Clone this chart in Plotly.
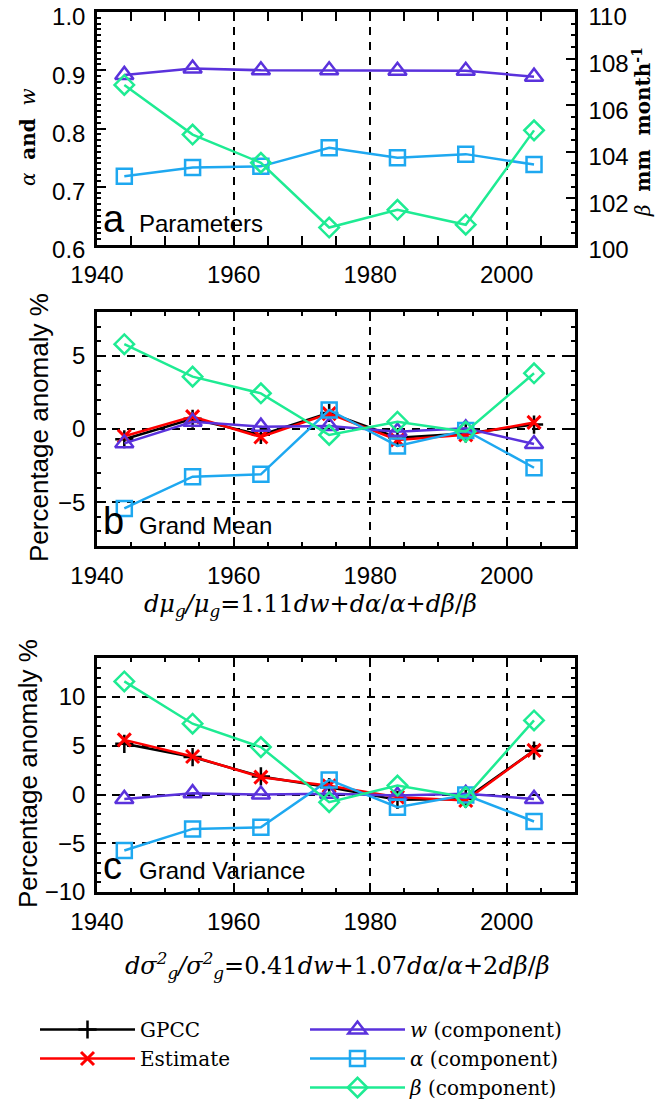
import plotly.graph_objects as go

# ---------------- data ----------------
years = [1944, 1954, 1964, 1974, 1984, 1994, 2004]

# panel a: parameters
param_w = [0.892, 0.903, 0.900, 0.900, 0.899, 0.899, 0.889]
param_alpha = [0.718, 0.733, 0.735, 0.767, 0.750, 0.756, 0.738]
param_beta = [106.87, 104.74, 103.53, 100.75, 101.51, 100.87, 104.92]

# panel b: grand mean percentage anomalies
mean_gpcc = [-0.7, 0.7, -0.4, 1.1, -0.6, -0.3, 0.3]
mean_est = [-0.5, 0.85, -0.55, 1.05, -0.75, -0.4, 0.45]
mean_w = [-0.98, 0.5, 0.16, 0.2, -0.18, 0.05, -1.03]
mean_alpha = [-5.43, -3.26, -3.1, 1.3, -1.16, -0.1, -2.65]
mean_beta = [5.8, 3.58, 2.44, -0.41, 0.5, -0.18, 3.81]

# panel c: grand variance percentage anomalies
var_gpcc = [5.2, 3.84, 1.85, 0.75, -0.55, -0.45, 4.5]
var_est = [5.6, 3.9, 1.78, 0.9, -0.27, -0.62, 4.52]
var_w = [-0.45, 0.14, 0.0, 0.07, -0.1, 0.07, -0.45]
var_alpha = [-5.75, -3.53, -3.36, 1.5, -1.3, -0.05, -2.77]
var_beta = [11.6, 7.26, 4.86, -0.79, 0.92, -0.27, 7.6]

x_ticks = [1940, 1960, 1980, 2000]
a_left_ticks = [0.6, 0.7, 0.8, 0.9, 1.0]
a_left_labels = ["0.6", "0.7", "0.8", "0.9", "1.0"]
a_right_ticks = [100, 102, 104, 106, 108, 110]
b_ticks = [-5, 0, 5]
c_ticks = [-10, -5, 0, 5, 10]

# ---------------- style ----------------
W, H = 665, 1099
C_W = "#5A32DC"
C_A = "#1EA8F0"
C_B = "#1EEB93"
C_E = "#FF0000"
C_G = "#000000"
SANS = "Liberation Sans, Arial, sans-serif"
SERIF = "DejaVu Serif, serif"
TICKFONT = dict(family=SANS, size=24, color="black")


def py(px):
    return 1 - px / H


def px_x(px):
    return px / W


xdom = [px_x(97), px_x(575)]
dom_a = [py(245), py(12)]
dom_b = [py(546), py(312)]
dom_c = [py(892), py(658)]

fig = go.Figure()

mk_w = dict(symbol="triangle-up-open", size=16, line=dict(width=2.5, color=C_W), color=C_W)
mk_a = dict(symbol="square-open", size=15, line=dict(width=2.5, color=C_A), color=C_A)
mk_b = dict(symbol="diamond-open", size=15, line=dict(width=2.5, color=C_B), color=C_B)
mk_g = dict(symbol="cross-thin-open", size=13, line=dict(width=2.5, color=C_G), color=C_G)
mk_e = dict(symbol="x-thin-open", size=13, line=dict(width=3, color=C_E), color=C_E)
LW = 2.5

# panel a
fig.add_trace(go.Scatter(x=years, y=param_w, mode="lines+markers", line=dict(color=C_W, width=LW),
                         marker=mk_w, xaxis="x", yaxis="y", showlegend=False))
fig.add_trace(go.Scatter(x=years, y=param_alpha, mode="lines+markers", line=dict(color=C_A, width=LW),
                         marker=mk_a, xaxis="x", yaxis="y", showlegend=False))
fig.add_trace(go.Scatter(x=years, y=param_beta, mode="lines+markers", line=dict(color=C_B, width=LW),
                         marker=mk_b, xaxis="x", yaxis="y2", showlegend=False))

# panels b and c
for xa, ya, vals, show in [("x2", "y3", (mean_gpcc, mean_est, mean_w, mean_alpha, mean_beta), True),
                           ("x3", "y4", (var_gpcc, var_est, var_w, var_alpha, var_beta), False)]:
    g, e, w, a, b = vals
    fig.add_trace(go.Scatter(x=years, y=g, mode="lines+markers", name="GPCC", legend="legend",
                             line=dict(color=C_G, width=LW), marker=mk_g, xaxis=xa, yaxis=ya, showlegend=show))
    fig.add_trace(go.Scatter(x=years, y=e, mode="lines+markers", name="Estimate", legend="legend",
                             line=dict(color=C_E, width=LW), marker=mk_e, xaxis=xa, yaxis=ya, showlegend=show))
    fig.add_trace(go.Scatter(x=years, y=w, mode="lines+markers", name="<i>w</i> (component)", legend="legend2",
                             line=dict(color=C_W, width=LW), marker=mk_w, xaxis=xa, yaxis=ya, showlegend=show))
    fig.add_trace(go.Scatter(x=years, y=a, mode="lines+markers", name="<i>α</i> (component)", legend="legend2",
                             line=dict(color=C_A, width=LW), marker=mk_a, xaxis=xa, yaxis=ya, showlegend=show))
    fig.add_trace(go.Scatter(x=years, y=b, mode="lines+markers", name="<i>β</i> (component)", legend="legend2",
                             line=dict(color=C_B, width=LW), marker=mk_b, xaxis=xa, yaxis=ya, showlegend=show))

COMMON = dict(ticks="inside", ticklen=9, tickwidth=1.5, tickcolor="black",
              showline=True, linecolor="black", linewidth=2.5,
              gridcolor="black", gridwidth=2, griddash="8px,7px",
              zeroline=False, tickfont=TICKFONT, automargin=False, ticklabeloverflow="allow")


def xaxis(anchor):
    return dict(domain=xdom, anchor=anchor, range=[1940, 2010], tickmode="array", tickvals=x_ticks,
                mirror="allticks", showgrid=True, ticklabelstandoff=6,
                minor=dict(dtick=5, tick0=1940, ticks="inside", ticklen=4, tickwidth=1.5,
                           tickcolor="black", showgrid=False),
                **COMMON)


def yaxis(dom, rng, vals, minor, anchor):
    return dict(domain=dom, anchor=anchor, range=rng, tickmode="array", tickvals=vals,
                mirror="allticks", showgrid=True, ticklabelstandoff=4,
                minor=dict(dtick=minor, tick0=0, ticks="inside", ticklen=4, tickwidth=1.5,
                           tickcolor="black", showgrid=False),
                **COMMON)


ya = dict(domain=dom_a, anchor="x", range=[0.6, 1.0], tickmode="array", tickvals=a_left_ticks,
          ticktext=a_left_labels, mirror=True, showgrid=False, ticklabelstandoff=4, ticklabelshift=5,
          minor=dict(dtick=0.01, tick0=0.6, ticks="inside", ticklen=4, tickwidth=1.5, tickcolor="black"),
          **COMMON)
y2 = dict(overlaying="y", side="right", anchor="x", range=[100, 110], tickmode="array",
          tickvals=a_right_ticks, showgrid=False, ticklabelstandoff=6, ticklabelshift=5,
          minor=dict(dtick=0.5, tick0=100, ticks="inside", ticklen=4, tickwidth=1.5, tickcolor="black"),
          **COMMON)

LEGFONT = dict(family=SERIF, size=20, color="black")
fig.update_layout(
    template="none",
    width=W, height=H,
    margin=dict(l=0, r=0, t=0, b=0, autoexpand=False),
    paper_bgcolor="white", plot_bgcolor="white",
    xaxis=xaxis("y"),
    yaxis=ya,
    yaxis2=y2,
    xaxis2=xaxis("y3"),
    yaxis3=yaxis(dom_b, [-8, 8], b_ticks, 1, "x2"),
    xaxis3=xaxis("y4"),
    yaxis4=yaxis(dom_c, [-10, 14], c_ticks, 1, "x3"),
    legend=dict(x=px_x(35), y=py(1010), xanchor="left", yanchor="top", bgcolor="rgba(0,0,0,0)",
                font=LEGFONT, itemwidth=95, tracegroupgap=0),
    legend2=dict(x=px_x(305), y=py(1010), xanchor="left", yanchor="top", bgcolor="rgba(0,0,0,0)",
                 font=LEGFONT, itemwidth=95, tracegroupgap=0),
    showlegend=True,
)

C = dict(xref="paper", yref="paper", showarrow=False, xanchor="center", yanchor="middle")
ann = []
# axis titles
ann.append(dict(text="<i>α</i>  <b>and</b>  <i>w</i>", x=px_x(28), y=py(137), textangle=-90,
                font=dict(family=SERIF, size=20, color="black"), **C))
ann.append(dict(text="<i>β</i>  <b>mm  month<sup>-1</sup></b>", x=px_x(642), y=py(132), textangle=-90,
                font=dict(family=SERIF, size=20, color="black"), **C))
for xc, yc in ((39, 428), (28, 774)):
    ann.append(dict(text="Percentage anomaly %", x=px_x(xc), y=py(yc), textangle=-90,
                    font=dict(family=SANS, size=26, color="black"), **C))
# panel labels
for letter, word, base in (("a", "Parameters", 233), ("b", "Grand Mean", 535), ("c", "Grand Variance", 880)):
    ann.append(dict(text=letter, x=px_x(101), y=py(base + 9), xref="paper", yref="paper",
                    xanchor="left", yanchor="bottom", showarrow=False,
                    font=dict(family=SANS, size=38, color="black")))
    ann.append(dict(text=word, x=px_x(137), y=py(base + 6), xref="paper", yref="paper",
                    xanchor="left", yanchor="bottom", showarrow=False,
                    font=dict(family=SANS, size=24, color="black")))
# formulas
ann.append(dict(text="<i>dμ<sub>g</sub>/μ<sub>g</sub></i>=1.11<i>dw</i>+<i>dα</i>/<i>α</i>+<i>dβ</i>/<i>β</i>",
                x=px_x(310), y=py(605), font=dict(family=SERIF, size=24, color="black"), **C))
ann.append(dict(text="<i>dσ<sup>2</sup><sub>g</sub>/σ<sup>2</sup><sub>g</sub></i>=0.41<i>dw</i>+1.07<i>dα</i>/<i>α</i>+2<i>dβ</i>/<i>β</i>",
                x=px_x(337), y=py(965), font=dict(family=SERIF, size=24, color="black"), **C))
fig.update_layout(annotations=ann)

fig.write_html("out.html", config={"displayModeBar": False},
               post_script="document.body.style.margin='0px';")
